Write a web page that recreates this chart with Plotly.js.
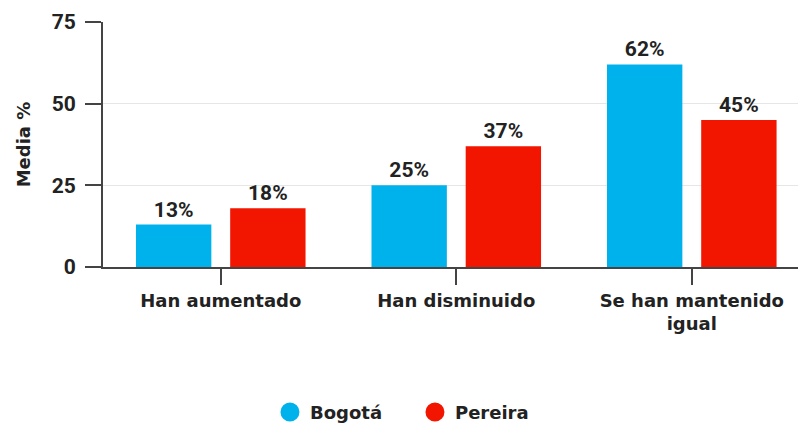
<!DOCTYPE html>
<html>
<head>
<meta charset="utf-8">
<script src="https://cdn.plot.ly/plotly-3.0.1.min.js"></script>
<style>html,body{margin:0;padding:0;background:#fff;}#chart{width:798px;height:425px;}</style>
</head>
<body>
<div id="chart"></div>
<script>
var categories = ["Han aumentado", "Han disminuido", "Se han mantenido<br>igual"];
var seriesNames = ["Bogotá", "Pereira"];
var bogota = [13, 25, 62];
var pereira = [18, 37, 45];
var bogotaLabels = ["13%", "25%", "62%"];
var pereiraLabels = ["18%", "37%", "45%"];
var yTicks = [0, 25, 50, 75];
var yTitle = "Media %";

var BLUE = "#00b2ec";
var RED = "#f21500";
var TXT = "#222222";
var numFont = {family: "Roboto, sans-serif", size: 21, color: TXT, weight: "bold"};
var wordFont = {family: "DejaVu Sans, sans-serif", size: 18, color: TXT, weight: "bold"};

var traces = [
  {type: "bar", x: categories, y: bogota, name: seriesNames[0], marker: {color: BLUE},
   text: bogotaLabels, textposition: "outside", textfont: numFont, cliponaxis: false,
   showlegend: false, hoverinfo: "skip"},
  {type: "bar", x: categories, y: pereira, name: seriesNames[1], marker: {color: RED},
   text: pereiraLabels, textposition: "outside", textfont: numFont, cliponaxis: false,
   showlegend: false, hoverinfo: "skip"},
  {type: "scatter", mode: "markers", x: [categories[0]], y: [null], name: seriesNames[0],
   marker: {color: BLUE, size: 16, line: {color: BLUE, width: 3}}, hoverinfo: "skip"},
  {type: "scatter", mode: "markers", x: [categories[0]], y: [null], name: seriesNames[1],
   marker: {color: RED, size: 16, line: {color: RED, width: 3}}, hoverinfo: "skip"}
];

var layout = {
  width: 798, height: 425,
  margin: {l: 103, r: 0, t: 22, b: 158},
  paper_bgcolor: "#fff", plot_bgcolor: "#fff",
  barmode: "group", bargap: 0.2, bargroupgap: 0.2,
  xaxis: {
    type: "category", range: [-0.5, 2.451],
    showline: true, linecolor: "#444", linewidth: 2,
    ticks: "outside", ticklen: 16, tickwidth: 2, tickcolor: "#444",
    tickfont: wordFont, showgrid: false, zeroline: false, automargin: false
  },
  yaxis: {
    range: [0, 75], tickvals: yTicks, ticktext: yTicks.map(String),
    showline: true, linecolor: "#444", linewidth: 2,
    ticks: "outside", ticklen: 16, tickwidth: 2, tickcolor: "#444",
    ticklabelstandoff: 5,
    tickfont: {family: "Roboto, sans-serif", size: 21, color: TXT, weight: "bold"},
    showgrid: true, gridcolor: "#e6e6e6", gridwidth: 1.5,
    zeroline: false, automargin: false,
    title: {text: yTitle, font: wordFont, standoff: 16}
  },
  legend: {
    orientation: "h", xref: "container", yref: "container",
    x: 0.52, xanchor: "center", y: 0.03, yanchor: "middle",
    font: wordFont, itemsizing: "trace", entrywidth: 100, traceorder: "normal"
  },
  showlegend: true
};

Plotly.newPlot("chart", traces, layout, {displayModeBar: false, staticPlot: true});
</script>
</body>
</html>
